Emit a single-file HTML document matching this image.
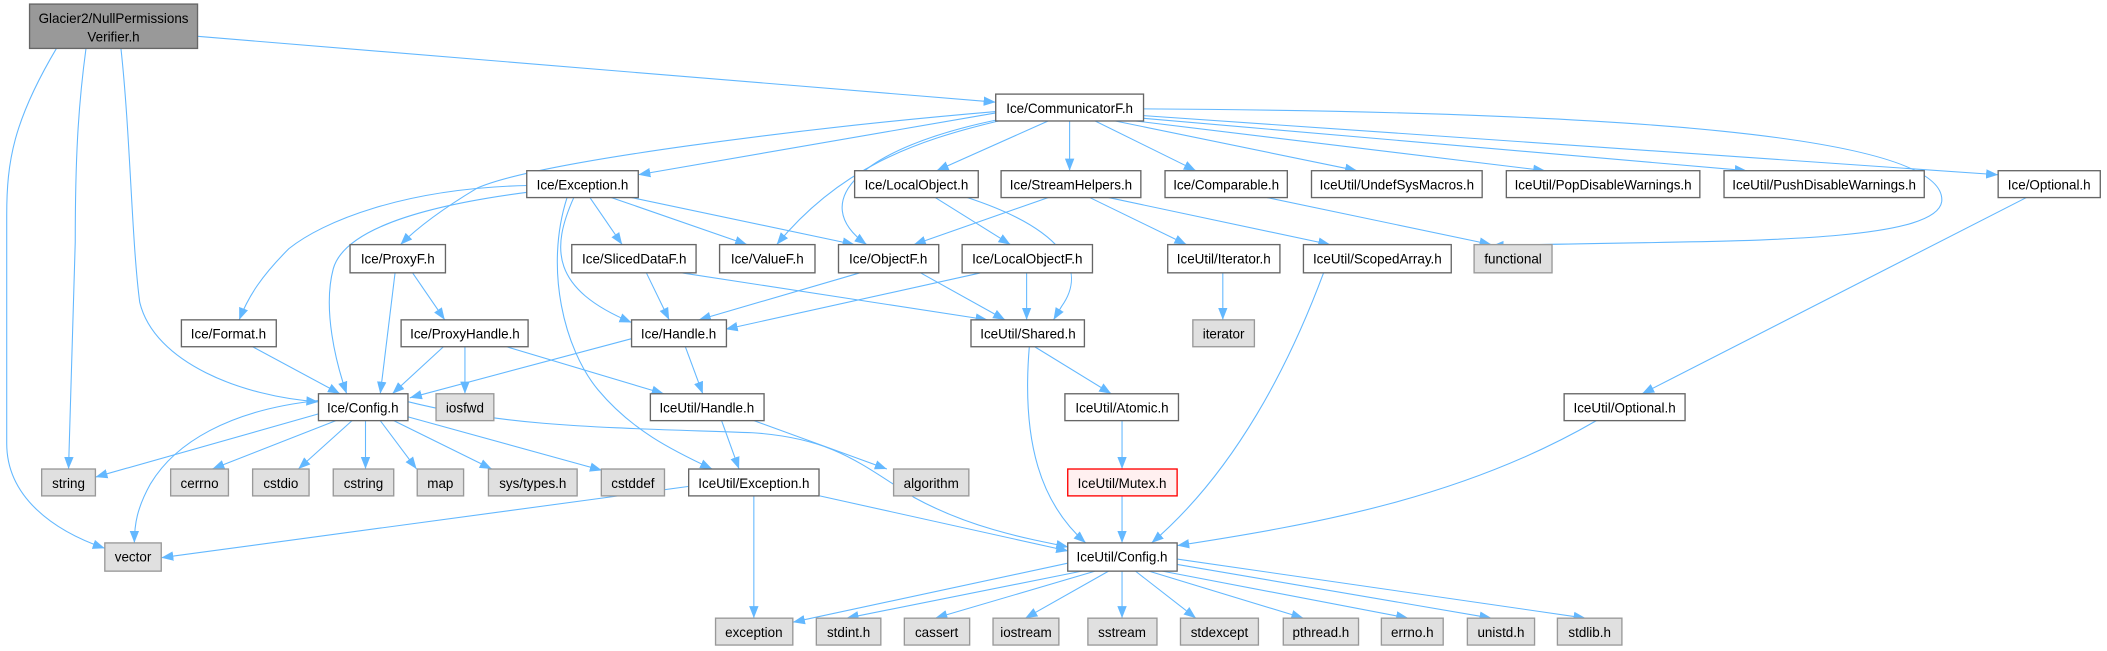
<!DOCTYPE html>
<html><head><meta charset="utf-8"><style>
html,body{margin:0;padding:0;background:#fff;}
svg{display:block}
text{font-family:"Liberation Sans",sans-serif;font-size:10px;fill:#000;text-anchor:middle}
.e{fill:none;stroke:#63b8ff;stroke-width:0.8}
.n{fill:#fff;stroke:#666;stroke-width:1}
.g{fill:#e0e0e0;stroke:#999;stroke-width:1}
</style></head><body>
<svg width="2107" height="651" viewBox="0 0 1568 484.4" xmlns="http://www.w3.org/2000/svg">
<defs><marker id="a" markerUnits="userSpaceOnUse" markerWidth="10" markerHeight="8" refX="9" refY="4" orient="auto"><path d="M0,0.5 L9,4 L0,7.5 z" fill="#63b8ff"/></marker></defs>
<g marker-end="url(#a)">
<path class="e" d="M147,27 L741,76"/>
<path class="e" d="M42,36 C10,90 5,120 5,160 L5,330 C5,370 40,395 78,408"/>
<path class="e" d="M64,36 C58,80 56,120 56,180 L51,349"/>
<path class="e" d="M90,36 C97,100 98,180 104,225 C115,270 180,295 237,299"/>
<path class="e" d="M741,84 L475,130"/>
<path class="e" d="M741,83 C600,95 400,120 355,140 C330,155 310,170 298,182"/>
<path class="e" d="M743,90 C680,105 625,125 578,182"/>
<path class="e" d="M743,89 C640,110 600,150 645,182"/>
<path class="e" d="M780,90 L697,127"/>
<path class="e" d="M796,90 L796,127"/>
<path class="e" d="M815,90 L890,127"/>
<path class="e" d="M830,90 L1010,127"/>
<path class="e" d="M845,90 L1150,127"/>
<path class="e" d="M851,88 L1300,127"/>
<path class="e" d="M851,86 L1487,130"/>
<path class="e" d="M851,81 C1200,83 1450,100 1445,150 C1440,185 1250,178 1110,183"/>
<path class="e" d="M720,147 C790,170 810,200 790,228 L784,238"/>
<path class="e" d="M393,138 C300,140 240,165 215,185 C195,205 185,220 178,238"/>
<path class="e" d="M393,143 C300,155 255,175 248,200 C240,230 250,270 258,293"/>
<path class="e" d="M427,147 C410,185 410,215 470,240"/>
<path class="e" d="M422,147 C405,200 420,260 445,290 C470,320 500,335 530,349"/>
<path class="e" d="M439,147 L463,182"/>
<path class="e" d="M455,147 L556,182"/>
<path class="e" d="M470,147 L636,182"/>
<path class="e" d="M307,203 L331,238"/>
<path class="e" d="M294,203 L283,293"/>
<path class="e" d="M481,203 L498,238"/>
<path class="e" d="M507,203 L735,238"/>
<path class="e" d="M640,203 L520,238"/>
<path class="e" d="M685,203 L748,238"/>
<path class="e" d="M730,203 L540,245"/>
<path class="e" d="M764,203 L764,238"/>
<path class="e" d="M696,147 L752,182"/>
<path class="e" d="M780,147 L680,182"/>
<path class="e" d="M811,147 L883,182"/>
<path class="e" d="M825,147 L990,182"/>
<path class="e" d="M943,147 L1110,182"/>
<path class="e" d="M910,203 L910,238"/>
<path class="e" d="M985,203 C960,270 920,350 857,404"/>
<path class="e" d="M1508,147 L1222,293"/>
<path class="e" d="M188,258 L253,293"/>
<path class="e" d="M330,258 L292,293"/>
<path class="e" d="M346,258 L346,293"/>
<path class="e" d="M377,258 L494,293"/>
<path class="e" d="M470,252 L305,296"/>
<path class="e" d="M510,258 L523,293"/>
<path class="e" d="M770,258 L827,293"/>
<path class="e" d="M766,258 C760,330 775,375 808,404"/>
<path class="e" d="M835,313 L835,349"/>
<path class="e" d="M835,369 L835,404"/>
<path class="e" d="M1188,313 C1090,370 980,390 876,406"/>
<path class="e" d="M537,313 L550,349"/>
<path class="e" d="M561,313 L660,349"/>
<path class="e" d="M237,308 L71,355"/>
<path class="e" d="M237,298 C170,305 130,330 112,360 C102,378 100,390 100,404"/>
<path class="e" d="M250,313 L158,349"/>
<path class="e" d="M262,313 L222,349"/>
<path class="e" d="M272,313 L272,349"/>
<path class="e" d="M283,313 L310,349"/>
<path class="e" d="M293,313 L366,349"/>
<path class="e" d="M303,310 L448,350"/>
<path class="e" d="M304,299 C380,318 450,318 560,322 C620,326 640,345 680,370 C720,392 760,400 795,407"/>
<path class="e" d="M512,362 L120,415"/>
<path class="e" d="M561,369 L561,460"/>
<path class="e" d="M610,369 L795,410"/>
<path class="e" d="M795,419 L590,463"/>
<path class="e" d="M805,425 L630,460"/>
<path class="e" d="M815,425 L696,460"/>
<path class="e" d="M825,425 L763,460"/>
<path class="e" d="M835,425 L835,460"/>
<path class="e" d="M845,425 L890,460"/>
<path class="e" d="M855,425 L970,460"/>
<path class="e" d="M865,425 L1048,460"/>
<path class="e" d="M876,420 L1110,460"/>
<path class="e" d="M876,416 L1180,460"/>
</g>
<rect x="22" y="3" width="125" height="33" fill="#999" stroke="#666"/>
<text x="84.5" y="17">Glacier2/NullPermissions</text><text x="84.5" y="31">Verifier.h</text>
<g>
<rect class="n" x="741" y="70" width="110" height="20"/><text x="796" y="84">Ice/CommunicatorF.h</text>
<rect class="n" x="392" y="127" width="83" height="20"/><text x="433.5" y="141">Ice/Exception.h</text>
<rect class="n" x="636" y="127" width="92" height="20"/><text x="682" y="141">Ice/LocalObject.h</text>
<rect class="n" x="745" y="127" width="104" height="20"/><text x="797" y="141">Ice/StreamHelpers.h</text>
<rect class="n" x="867" y="127" width="91" height="20"/><text x="912.5" y="141">Ice/Comparable.h</text>
<rect class="n" x="976" y="127" width="127" height="20"/><text x="1039.5" y="141">IceUtil/UndefSysMacros.h</text>
<rect class="n" x="1121" y="127" width="144" height="20"/><text x="1193" y="141">IceUtil/PopDisableWarnings.h</text>
<rect class="n" x="1283" y="127" width="149" height="20"/><text x="1357.5" y="141">IceUtil/PushDisableWarnings.h</text>
<rect class="n" x="1487" y="127" width="76" height="20"/><text x="1525" y="141">Ice/Optional.h</text>
<rect class="n" x="260.5" y="182" width="71" height="21"/><text x="296" y="196">Ice/ProxyF.h</text>
<rect class="n" x="425.5" y="182" width="92.5" height="21"/><text x="472" y="196">Ice/SlicedDataF.h</text>
<rect class="n" x="535.5" y="182" width="71" height="21"/><text x="571" y="196">Ice/ValueF.h</text>
<rect class="n" x="624" y="182" width="74.6" height="21"/><text x="661" y="196">Ice/ObjectF.h</text>
<rect class="n" x="716" y="182" width="97" height="21"/><text x="764.5" y="196">Ice/LocalObjectF.h</text>
<rect class="n" x="869" y="182" width="83.5" height="21"/><text x="910.7" y="196">IceUtil/Iterator.h</text>
<rect class="n" x="970" y="182" width="110" height="21"/><text x="1025" y="196">IceUtil/ScopedArray.h</text>
<rect class="g" x="1097" y="182" width="58" height="21"/><text x="1126" y="196">functional</text>
<rect class="n" x="135" y="238" width="70.6" height="20"/><text x="170" y="252">Ice/Format.h</text>
<rect class="n" x="298.5" y="238" width="94.5" height="20"/><text x="346" y="252">Ice/ProxyHandle.h</text>
<rect class="n" x="470" y="238" width="70.6" height="20"/><text x="505" y="252">Ice/Handle.h</text>
<rect class="n" x="722.6" y="238" width="84.4" height="20"/><text x="765" y="252">IceUtil/Shared.h</text>
<rect class="g" x="887.7" y="238" width="45.8" height="20"/><text x="910.6" y="252">iterator</text>
<rect class="n" x="237" y="293" width="66.6" height="20"/><text x="270" y="307">Ice/Config.h</text>
<rect class="g" x="324.5" y="293" width="43" height="20"/><text x="346" y="307">iosfwd</text>
<rect class="n" x="484" y="293" width="84.6" height="20"/><text x="526" y="307">IceUtil/Handle.h</text>
<rect class="n" x="792.5" y="293" width="84.5" height="20"/><text x="835" y="307">IceUtil/Atomic.h</text>
<rect class="n" x="1164" y="293" width="90" height="20"/><text x="1209" y="307">IceUtil/Optional.h</text>
<rect class="g" x="31" y="349" width="40" height="20"/><text x="51" y="363">string</text>
<rect class="g" x="127" y="349" width="43" height="20"/><text x="148.5" y="363">cerrno</text>
<rect class="g" x="188" y="349" width="42" height="20"/><text x="209" y="363">cstdio</text>
<rect class="g" x="248" y="349" width="45" height="20"/><text x="270.5" y="363">cstring</text>
<rect class="g" x="310.5" y="349" width="34.5" height="20"/><text x="327.7" y="363">map</text>
<rect class="g" x="363.5" y="349" width="66" height="20"/><text x="396.5" y="363">sys/types.h</text>
<rect class="g" x="447.5" y="349" width="47" height="20"/><text x="471" y="363">cstddef</text>
<rect class="n" x="512.5" y="349" width="97" height="20"/><text x="561" y="363">IceUtil/Exception.h</text>
<rect class="g" x="665" y="349" width="56" height="20"/><text x="693" y="363">algorithm</text>
<rect x="794.6" y="349" width="81.4" height="20" fill="#fff0f0" stroke="#f00"/><text x="835" y="363">IceUtil/Mutex.h</text>
<rect class="g" x="78" y="404" width="42" height="21"/><text x="99" y="418">vector</text>
<rect class="n" x="794.6" y="404" width="81.4" height="21"/><text x="835" y="418">IceUtil/Config.h</text>
<rect class="g" x="532.5" y="460" width="57.5" height="20"/><text x="561" y="474">exception</text>
<rect class="g" x="607.5" y="460" width="48" height="20"/><text x="631.5" y="474">stdint.h</text>
<rect class="g" x="673" y="460" width="48.6" height="20"/><text x="697" y="474">cassert</text>
<rect class="g" x="739" y="460" width="49" height="20"/><text x="763.5" y="474">iostream</text>
<rect class="g" x="809.6" y="460" width="51.4" height="20"/><text x="835" y="474">sstream</text>
<rect class="g" x="878.5" y="460" width="58" height="20"/><text x="907.5" y="474">stdexcept</text>
<rect class="g" x="955" y="460" width="56" height="20"/><text x="983" y="474">pthread.h</text>
<rect class="g" x="1028" y="460" width="46" height="20"/><text x="1051" y="474">errno.h</text>
<rect class="g" x="1092" y="460" width="50" height="20"/><text x="1117" y="474">unistd.h</text>
<rect class="g" x="1159" y="460" width="48" height="20"/><text x="1183" y="474">stdlib.h</text>
</g>
</svg>
</body></html>
